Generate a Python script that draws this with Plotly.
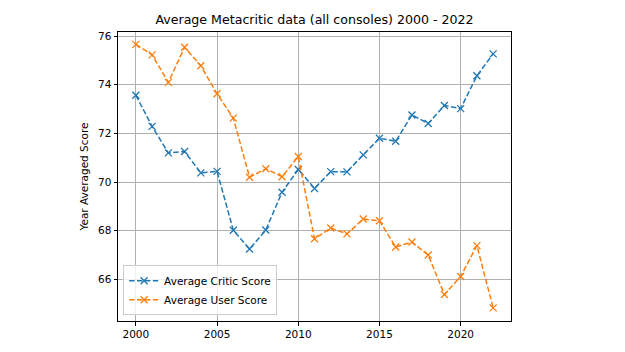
import plotly.graph_objects as go

years = list(range(2000, 2023))
critic = [73.57, 72.29, 71.20, 71.26, 70.38, 70.44, 68.02, 67.25, 68.03, 69.58, 70.52, 69.74,
          70.43, 70.42, 71.12, 71.80, 71.68, 72.76, 72.41, 73.15, 73.02, 74.37, 75.27]
user = [75.66, 75.23, 74.10, 75.54, 74.78, 73.63, 72.63, 70.20, 70.55, 70.22, 71.05, 67.67,
        68.11, 67.87, 68.48, 68.41, 67.33, 67.54, 67.00, 65.38, 66.12, 67.39, 64.83]
series_names = ["Average Critic Score", "Average User Score"]
colors = ["#1f77b4", "#ff7f0e"]
y_ticks = [66, 68, 70, 72, 74, 76]
x_ticks = [2000, 2005, 2010, 2015, 2020]

fig = go.Figure()
for name, vals, c in zip(series_names, [critic, user], colors):
    fig.add_trace(go.Scatter(
        x=years, y=vals, name=name, mode="lines+markers",
        line=dict(color=c, width=1.5, dash="5.5px,2.4px"),
        marker=dict(symbol="x-thin", size=7, line=dict(color=c, width=1.3), color=c),
    ))

axis_common = dict(
    showline=True, linecolor="black", linewidth=1, mirror=True,
    ticks="outside", ticklen=3.5, tickwidth=0.8, tickcolor="black",
    showgrid=True, gridcolor="#b0b0b0", gridwidth=0.8, zeroline=False,
    tickfont=dict(family="DejaVu Sans", size=10.5, color="black"),
)

fig.update_layout(
    width=625, height=352,
    margin=dict(l=118, r=114, t=32, b=28),
    paper_bgcolor="white", plot_bgcolor="white",
    title=dict(text="Average Metacritic data (all consoles) 2000 - 2022",
               x=(118 + 511) / 2 / 625, xanchor="center", y=1 - 20 / 352, yanchor="middle",
               font=dict(family="DejaVu Sans", size=12.6, color="black")),
    xaxis=dict(range=[1998.9, 2023.1], tickvals=x_ticks, **axis_common),
    yaxis=dict(range=[64.29, 76.17], tickvals=y_ticks,
               title=dict(text="Year Averaged Score", font=dict(family="DejaVu Sans", size=10.5, color="black"), standoff=7),
               **axis_common),
    legend=dict(x=0.013, y=0.02, xanchor="left", yanchor="bottom",
                bgcolor="rgba(255,255,255,0.8)", bordercolor="#cccccc", borderwidth=1,
                font=dict(family="DejaVu Sans", size=10.5, color="black"),
                tracegroupgap=0, itemwidth=30),
    showlegend=True,
)

fig.write_html("out.html")
